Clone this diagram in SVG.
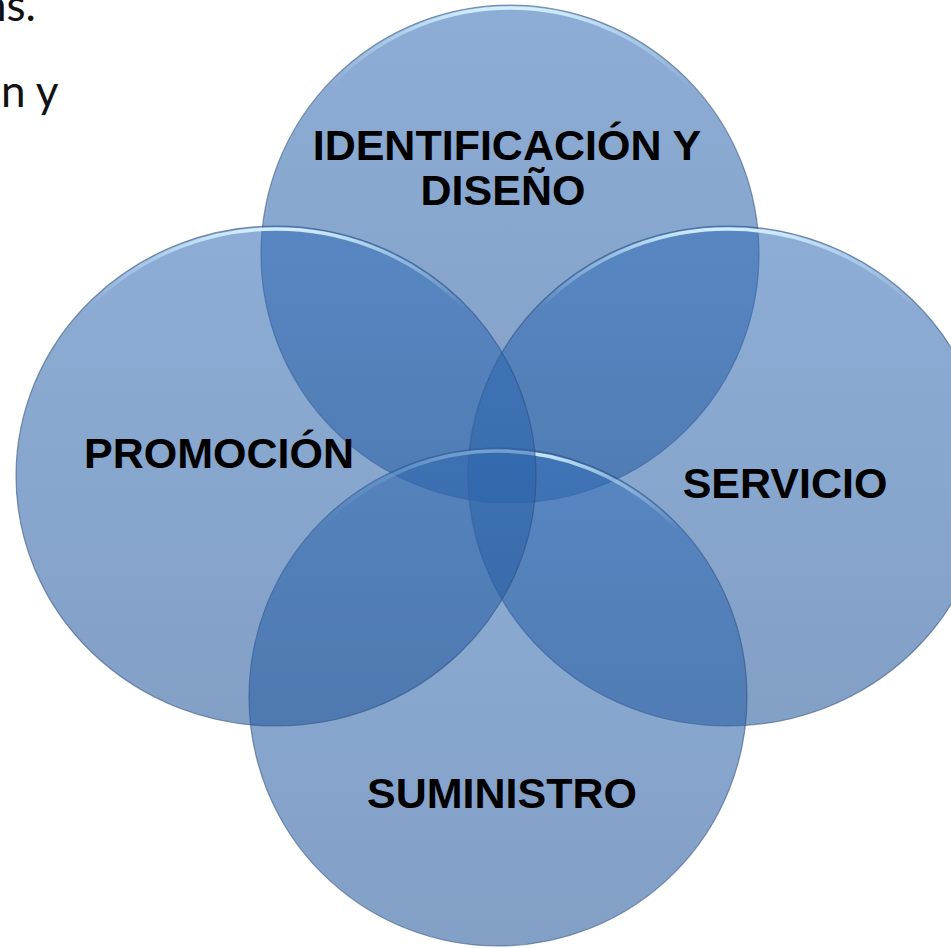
<svg xmlns="http://www.w3.org/2000/svg" width="951" height="948" viewBox="0 0 951 948">
  <style>
    .shape { fill: url(#fillGrad); fill-opacity: 0.56; stroke: #2c4a78; stroke-opacity: 0.55; stroke-width: 1.2; }
    .rim { fill: none; stroke: url(#rimGrad); stroke-width: 3.5; }
    .label { font-family: "Liberation Sans", Arial, sans-serif; font-weight: bold; font-size: 43px; fill: #000; text-anchor: middle; }
    .frag { font-family: Lato, "Open Sans", sans-serif; font-size: 44px; fill: #111; }
  </style>
  <defs>
    <linearGradient id="fillGrad" x1="0" y1="0" x2="0" y2="1">
      <stop offset="0" stop-color="#336db6"/>
      <stop offset="1" stop-color="#21559a"/>
    </linearGradient>
    <linearGradient id="rimGrad" x1="0" y1="0" x2="0" y2="1">
      <stop offset="0" stop-color="#d8f2ff" stop-opacity="0.95"/>
      <stop offset="0.06" stop-color="#c4e6f8" stop-opacity="0.55"/>
      <stop offset="0.16" stop-color="#c4e6f8" stop-opacity="0"/>
      <stop offset="1" stop-color="#c4e6f8" stop-opacity="0"/>
    </linearGradient>
  </defs>
  <rect width="951" height="948" fill="#ffffff"/>

  <g id="slide-text">
    <text class="frag" x="36" y="21" text-anchor="end">ns.</text>
    <text class="frag" x="1" y="107">n y</text>
  </g>

  <g id="node-identificacion">
    <circle class="shape" cx="510" cy="254" r="249"/>
    <circle class="rim" cx="510" cy="254" r="246"/>
    <text class="label" x="507" y="160">IDENTIFICACIÓN Y</text>
    <text class="label" x="503" y="205">DISEÑO</text>
  </g>

  <g id="node-servicio">
    <ellipse class="shape" cx="728" cy="476" rx="260" ry="250"/>
    <ellipse class="rim" cx="728" cy="476" rx="257" ry="247"/>
    <text class="label" x="785" y="498">SERVICIO</text>
  </g>

  <g id="node-suministro">
    <circle class="shape" cx="498" cy="697" r="249"/>
    <circle class="rim" cx="498" cy="697" r="246"/>
    <text class="label" x="502" y="808">SUMINISTRO</text>
  </g>

  <g id="node-promocion">
    <ellipse class="shape" cx="276" cy="476" rx="260" ry="250"/>
    <ellipse class="rim" cx="276" cy="476" rx="257" ry="247"/>
    <text class="label" x="219" y="468">PROMOCIÓN</text>
  </g>

  <g id="connectors"></g>
</svg>
